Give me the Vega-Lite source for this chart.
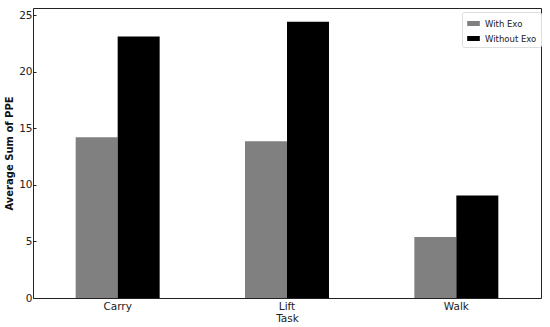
{
  "$schema": "https://vega.github.io/schema/vega-lite/v6.json",
  "width": 508,
  "height": 290,
  "autosize": {"type": "none"},
  "padding": {"left": 33, "top": 8, "right": 9, "bottom": 29},
  "background": "white",
  "config": {
    "font": "DejaVu Sans",
    "view": {"stroke": "#222222", "strokeWidth": 1}
  },
  "data": {
    "values": [
      {"Task": "Carry", "Condition": "With Exo", "PPE": 14.2},
      {"Task": "Carry", "Condition": "Without Exo", "PPE": 23.1},
      {"Task": "Lift", "Condition": "With Exo", "PPE": 13.85},
      {"Task": "Lift", "Condition": "Without Exo", "PPE": 24.4},
      {"Task": "Walk", "Condition": "With Exo", "PPE": 5.4},
      {"Task": "Walk", "Condition": "Without Exo", "PPE": 9.05}
    ]
  },
  "mark": {"type": "bar"},
  "encoding": {
    "x": {
      "field": "Task",
      "type": "nominal",
      "scale": {"paddingInner": 0.504, "paddingOuter": 0.252},
      "axis": {
        "title": "Task",
        "titleFontSize": 10.5,
        "titleFontWeight": "normal",
        "titleColor": "#222222",
        "titlePadding": 2,
        "labelAngle": 0,
        "labelFontSize": 10.5,
        "labelColor": "#222222",
        "labelPadding": 3,
        "ticks": false,
        "domain": false,
        "grid": false
      }
    },
    "xOffset": {
      "field": "Condition",
      "type": "nominal",
      "scale": {"paddingInner": 0, "paddingOuter": 0}
    },
    "y": {
      "field": "PPE",
      "type": "quantitative",
      "scale": {"domain": [0, 25.62], "nice": false, "zero": true},
      "axis": {
        "title": "Average Sum of PPE",
        "titleFontSize": 10,
        "titleFontWeight": "bold",
        "titleColor": "#111111",
        "titlePadding": 4,
        "values": [0, 5, 10, 15, 20, 25],
        "labelFontSize": 10.5,
        "labelColor": "#222222",
        "labelPadding": 4,
        "tickSize": -3,
        "tickColor": "#222222",
        "domain": false,
        "grid": false
      }
    },
    "color": {
      "field": "Condition",
      "type": "nominal",
      "scale": {"domain": ["With Exo", "Without Exo"], "range": ["#808080", "#000000"]},
      "legend": {
        "title": null,
        "orient": "none",
        "legendX": 429,
        "legendY": 4,
        "direction": "vertical",
        "symbolType": "M-1,-0.4H1V0.4H-1Z",
        "symbolSize": 160,
        "labelFontSize": 8.5,
        "labelColor": "#222222",
        "rowPadding": 3,
        "padding": 4,
        "strokeColor": "#dddddd",
        "fillColor": "white",
        "cornerRadius": 2
      }
    }
  }
}
